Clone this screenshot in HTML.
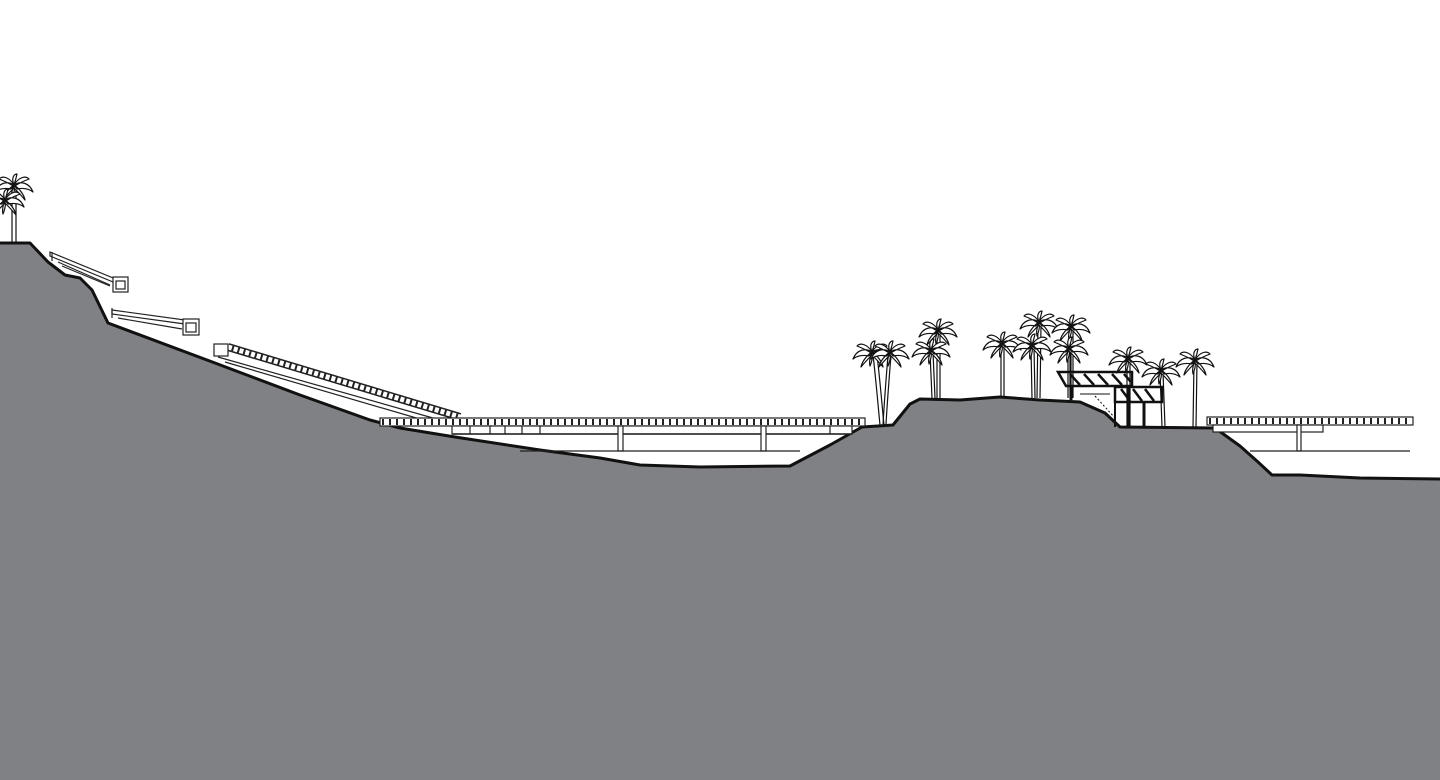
<!DOCTYPE html>
<html><head><meta charset="utf-8"><style>html,body{margin:0;padding:0;background:#fff}svg{display:block}</style></head>
<body>
<svg width="1440" height="780" viewBox="0 0 1440 780" xmlns="http://www.w3.org/2000/svg">
<defs>
<g id="palm">
<path d="M0,0 C-6,-4 -15,-3 -19,7 C-14,3 -8,3 -3,4 Z M0,0 C6,-4 15,-3 19,7 C14,3 8,3 3,4 Z M0,0 C-4,-7 -11,-10 -15,-6 C-10,-4 -5,-2 -1,1 Z M0,0 C4,-7 11,-10 15,-6 C10,-4 5,-2 1,1 Z M0,0 C-3,-7 0,-11 3,-11 C2,-6 1,-3 0,0 Z M0,0 C-6,4 -10,10 -11,15 C-7,10 -3,6 0,3 Z M0,0 C6,4 10,10 11,15 C7,10 3,6 0,3 Z M0,0 C-2,5 -3,10 -2,14 C0,9 1,5 0,2 Z" fill="#fff" stroke="#111" stroke-width="1.2" stroke-linejoin="round"/>
</g>
</defs>
<!-- ground -->
<path d="M0,243 L30,243 L48,262 L65,275 L80,278 L92,290 L108,323 L215,363 L300,395 L370,420 L400,428 L455,437 L540,450 L600,458 L640,465 L700,467 L790,466 L830,445 L862,427 L893,425 L910,404 L920,399 L960,400 L1000,397 L1040,400 L1080,402 L1105,413 L1120,427 L1215,428 L1240,446 L1258,462 L1272,475 L1300,475 L1360,478 L1440,479 L1440,780 L0,780 Z" fill="#808184"/>
<path d="M0,243 L30,243 L48,262 L65,275 L80,278 L92,290 L108,323 L215,363 L300,395 L370,420 L400,428 L455,437 L540,450 L600,458 L640,465 L700,467 L790,466 L830,445 L862,427 L893,425 L910,404 L920,399 L960,400 L1000,397 L1040,400 L1080,402 L1105,413 L1120,427 L1215,428 L1240,446 L1258,462 L1272,475 L1300,475 L1360,478 L1440,479" fill="none" stroke="#111" stroke-width="3" stroke-linejoin="round"/>

<!-- top stairs -->
<g stroke="#222" stroke-width="1.2" fill="#fff">
<path d="M50,252 L118,280 L118,284 L50,256 Z"/>
<line x1="52" y1="252" x2="52" y2="261" />
<line x1="58" y1="262" x2="110" y2="285" />
<line x1="62" y1="266" x2="110" y2="286" />
<rect x="113" y="277" width="15" height="15"/>
<rect x="116" y="281" width="9" height="8"/>
<path d="M112,310 L185,320 L185,324 L112,314 Z"/>
<line x1="112" y1="308" x2="112" y2="318"/>
<line x1="118" y1="318" x2="182" y2="329"/>
<rect x="183" y="319" width="16" height="16"/>
<rect x="186" y="323" width="10" height="9"/>
</g>

<!-- long ramp -->
<g stroke="#222" fill="none">
<line x1="228" y1="347" x2="460" y2="417" stroke-width="8"/>
<line x1="228" y1="347" x2="460" y2="417" stroke-width="5" stroke="#fff" stroke-dasharray="4 2"/>
<line x1="218" y1="357" x2="440" y2="420" stroke-width="1.2"/>
<line x1="225" y1="362" x2="430" y2="422" stroke-width="1.2"/>
<rect x="214" y="344" width="14" height="12" stroke-width="1.2" fill="#fff"/>
</g>

<!-- main bridge -->
<g stroke="#222" stroke-width="1.2">
<rect x="380" y="418" width="485" height="8" fill="#fff"/>
<line x1="382" y1="422" x2="864" y2="422" stroke-width="6" stroke="#222" stroke-dasharray="2 5"/>
<rect x="452" y="426" width="400" height="8" fill="#fff"/>
<line x1="452" y1="434" x2="852" y2="434" stroke-width="1.5"/>
<rect x="618" y="426" width="5" height="25" fill="#fff"/>
<rect x="761" y="426" width="5" height="25" fill="#fff"/>
<line x1="470" y1="426" x2="470" y2="434"/><line x1="490" y1="426" x2="490" y2="434"/><line x1="505" y1="426" x2="505" y2="434"/><line x1="522" y1="426" x2="522" y2="434"/><line x1="540" y1="426" x2="540" y2="434"/><line x1="830" y1="426" x2="830" y2="434"/>
<line x1="520" y1="451" x2="800" y2="451"/>
</g>

<!-- right deck -->
<g stroke="#222" stroke-width="1.2">
<rect x="1207" y="417" width="206" height="8" fill="#fff"/>
<line x1="1209" y1="421" x2="1412" y2="421" stroke-width="6" stroke-dasharray="2 5"/>
<rect x="1213" y="425" width="110" height="7" fill="#fff"/>
<rect x="1297" y="425" width="4" height="26" fill="#fff"/>
<line x1="1250" y1="451" x2="1410" y2="451"/>
</g>

<!-- building -->
<g stroke="#111" fill="none">
<path d="M1058,372 L1132,372 L1132,386 L1066,386 Z" fill="#fff" stroke-width="2.5"/>
<path d="M1070,374 L1080,385 M1084,374 L1094,385 M1098,374 L1108,385 M1112,374 L1122,385 M1124,374 L1131,382" stroke-width="2.5"/>
<rect x="1115" y="387" width="47" height="15" fill="#fff" stroke-width="2.5"/>
<path d="M1121,389 L1130,401 M1133,389 L1142,401 M1145,389 L1154,401" stroke-width="2.5"/>
<line x1="1071" y1="386" x2="1071" y2="400" stroke-width="3"/>
<line x1="1129" y1="386" x2="1129" y2="427" stroke-width="3"/>
<line x1="1144" y1="402" x2="1144" y2="427" stroke-width="3"/>
<line x1="1115" y1="402" x2="1115" y2="427" stroke-width="2"/>
<line x1="1095" y1="396" x2="1115" y2="418" stroke-width="1" stroke-dasharray="2 2"/>
<line x1="1080" y1="394" x2="1110" y2="394" stroke-width="1"/>
</g>

<!-- palms trunks -->
<g stroke="#111" stroke-width="1.2" fill="none">
<path d="M12,185 L12,242 M16,185 L16,242"/>
<path d="M873,355 C876,380 878,405 880,425 M877,355 C880,380 882,405 884,425"/>
<path d="M888,355 C886,380 884,405 883,425 M891,355 C889,380 887,405 886,425"/>
<path d="M937,333 L937,398 M940,333 L940,398"/>
<path d="M930,352 L932,398 M933,352 L935,398"/>
<path d="M1001,345 L1001,398 M1004,345 L1004,398"/>
<path d="M1038,325 L1037,398 M1041,325 L1040,398"/>
<path d="M1031,347 L1032,398 M1034,347 L1035,398"/>
<path d="M1070,328 L1070,398 M1073,328 L1073,398"/>
<path d="M1068,350 L1068,398 M1071,350 L1071,398"/>
<path d="M1127,360 L1127,427 M1130,360 L1130,427"/>
<path d="M1160,372 L1162,427 M1163,372 L1165,427"/>
<path d="M1194,362 L1193,427 M1197,362 L1196,427"/>
</g>
<use href="#palm" x="14" y="185"/>
<use href="#palm" x="5" y="200"/>
<use href="#palm" x="872" y="352"/>
<use href="#palm" x="890" y="352"/>
<use href="#palm" x="938" y="330"/>
<use href="#palm" x="931" y="350"/>
<use href="#palm" x="1002" y="343"/>
<use href="#palm" x="1039" y="322"/>
<use href="#palm" x="1032" y="345"/>
<use href="#palm" x="1071" y="326"/>
<use href="#palm" x="1069" y="348"/>
<use href="#palm" x="1128" y="358"/>
<use href="#palm" x="1161" y="370"/>
<use href="#palm" x="1195" y="360"/>
</svg>
</body></html>
